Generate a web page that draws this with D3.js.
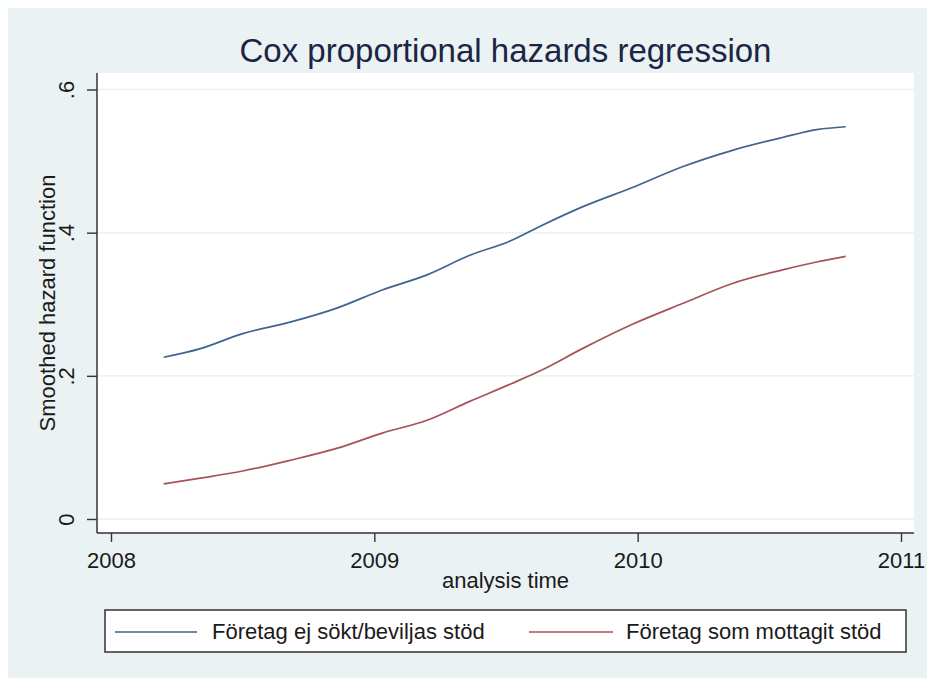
<!DOCTYPE html>
<html>
<head>
<meta charset="utf-8">
<script src="https://cdn.jsdelivr.net/npm/d3@7"></script>
<style>
  body { margin: 0; background: #ffffff; }
  svg text { font-family: "Liberation Sans", Arial, sans-serif; fill: #1a1a1a; }
</style>
</head>
<body>
<script>
// chart values
const times = [2008.20, 2008.34, 2008.50, 2008.68, 2008.86, 2009.03, 2009.20, 2009.36, 2009.52,
               2009.63, 2009.79, 2009.98, 2010.17, 2010.36, 2010.55, 2010.68, 2010.79];
const notApplied = [0.226, 0.238, 0.259, 0.275, 0.295, 0.320, 0.341, 0.368, 0.389,
                    0.409, 0.436, 0.463, 0.492, 0.515, 0.533, 0.544, 0.548];
const received = [0.049, 0.057, 0.067, 0.082, 0.099, 0.120, 0.138, 0.164, 0.189,
                  0.207, 0.238, 0.272, 0.301, 0.329, 0.348, 0.359, 0.367];
const seriesNames = ["Företag ej sökt/beviljas stöd", "Företag som mottagit stöd"];
const xTicks = [2008, 2009, 2010, 2011];
const yTicks = [0, 0.2, 0.4, 0.6];

const W = 927, H = 678;
const colors = ["#3d6590", "#a6525a"];

const svg = d3.select("body").append("svg")
    .attr("width", W)
    .attr("height", H);

// outer graph region
svg.append("rect")
    .attr("x", 8).attr("y", 8)
    .attr("width", W - 8).attr("height", H - 8)
    .attr("fill", "#eaf2f3");

// plot region
const plot = { left: 97, right: 914, top: 73, bottom: 533 };
svg.append("rect")
    .attr("x", plot.left).attr("y", plot.top)
    .attr("width", plot.right - plot.left)
    .attr("height", plot.bottom - plot.top)
    .attr("fill", "#ffffff");

// scales
const xScale = d3.scaleLinear().domain([2008, 2011]).range([111, 901]);
const yScale = d3.scaleLinear().domain([0, 0.6]).range([519, 89.5]);

// gridlines
svg.append("g").selectAll("line")
    .data(yTicks)
    .enter().append("line")
    .attr("x1", plot.left).attr("x2", plot.right)
    .attr("y1", d => yScale(d)).attr("y2", d => yScale(d))
    .attr("stroke", "#eaf2f3")
    .attr("stroke-width", 1.5);

// y axis
const fmt = d => d === 0 ? "0" : d3.format(".1f")(d).replace(/^0/, "");
const yAxis = d3.axisLeft(yScale).tickValues(yTicks).tickSize(10).tickPadding(0).tickFormat(fmt);
const yG = svg.append("g")
    .attr("transform", `translate(${plot.left},0)`)
    .call(yAxis);
yG.select(".domain").remove();
yG.selectAll(".tick line").attr("stroke", "#333").attr("stroke-width", 1.4);
yG.selectAll(".tick text")
    .attr("x", null).attr("dy", null)
    .attr("text-anchor", "middle")
    .attr("transform", `translate(${74 - plot.left},0) rotate(-90)`)
    .style("font-size", "22px");
svg.append("line")
    .attr("x1", plot.left).attr("x2", plot.left)
    .attr("y1", plot.top).attr("y2", plot.bottom)
    .attr("stroke", "#333").attr("stroke-width", 1.5);

// x axis
const xAxis = d3.axisBottom(xScale).tickValues(xTicks).tickSize(9).tickPadding(0).tickFormat(d3.format("d"));
const xG = svg.append("g")
    .attr("transform", `translate(0,${plot.bottom})`)
    .call(xAxis);
xG.select(".domain").remove();
xG.selectAll(".tick line").attr("stroke", "#333").attr("stroke-width", 1.4);
xG.selectAll(".tick text")
    .attr("y", 35).attr("dy", null)
    .style("font-size", "22px");
svg.append("line")
    .attr("x1", plot.left).attr("x2", plot.right)
    .attr("y1", plot.bottom).attr("y2", plot.bottom)
    .attr("stroke", "#333").attr("stroke-width", 1.5);

// axis titles
svg.append("text")
    .attr("x", (plot.left + plot.right) / 2)
    .attr("y", 588)
    .attr("text-anchor", "middle")
    .style("font-size", "22px")
    .text("analysis time");

svg.append("text")
    .attr("transform", `translate(55,${(plot.top + plot.bottom) / 2}) rotate(-90)`)
    .attr("text-anchor", "middle")
    .style("font-size", "22px")
    .text("Smoothed hazard function");

// title
svg.append("text")
    .attr("x", (plot.left + plot.right) / 2)
    .attr("y", 62)
    .attr("text-anchor", "middle")
    .style("font-size", "33px")
    .style("fill", "#1c2545")
    .text("Cox proportional hazards regression");

// lines
const line = d3.line()
    .x(d => xScale(d.t))
    .y(d => yScale(d.v))
    .curve(d3.curveMonotoneX);

[notApplied, received].forEach((vals, i) => {
  svg.append("path")
      .datum(times.map((t, j) => ({ t: t, v: vals[j] })))
      .attr("d", line)
      .attr("fill", "none")
      .attr("stroke", colors[i])
      .attr("stroke-width", 1.7);
});

// legend
svg.append("rect")
    .attr("x", 105).attr("y", 610)
    .attr("width", 801).attr("height", 42)
    .attr("fill", "#ffffff")
    .attr("stroke", "#333")
    .attr("stroke-width", 1.5);

const legendItems = [
  { x1: 115, x2: 197, tx: 212 },
  { x1: 529, x2: 613, tx: 626 }
];
legendItems.forEach((it, i) => {
  svg.append("line")
      .attr("x1", it.x1).attr("x2", it.x2)
      .attr("y1", 632).attr("y2", 632)
      .attr("stroke", colors[i])
      .attr("stroke-width", 1.7);
  svg.append("text")
      .attr("x", it.tx).attr("y", 639)
      .style("font-size", "22px")
      .text(seriesNames[i]);
});
</script>
</body>
</html>
